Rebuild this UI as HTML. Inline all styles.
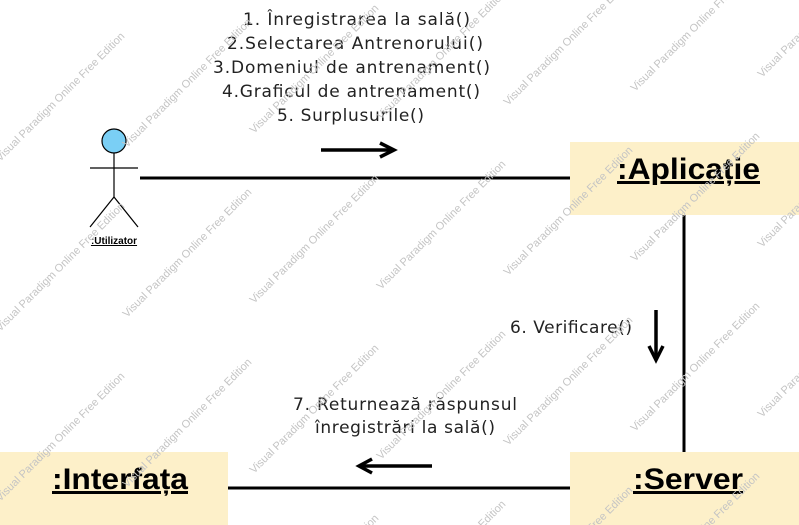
<!DOCTYPE html>
<html><head><meta charset="utf-8"><style>html,body{margin:0;padding:0;background:#fff;overflow:hidden}svg{display:block}</style></head>
<body>
<svg width="799" height="525" viewBox="0 0 799 525" xmlns="http://www.w3.org/2000/svg">
<rect width="799" height="525" fill="#fff"/>
<rect x="570" y="142" width="229" height="73" fill="#fdf0c9"/>
<rect x="570" y="452" width="229" height="73" fill="#fdf0c9"/>
<rect x="0" y="452" width="228" height="73" fill="#fdf0c9"/>
<g font-family="Liberation Sans, sans-serif" font-weight="bold" font-size="30" fill="#000" text-decoration="underline">
<text x="617" y="179" textLength="143" lengthAdjust="spacingAndGlyphs">:Aplicație</text>
<text x="633" y="489" textLength="110" lengthAdjust="spacingAndGlyphs">:Server</text>
<text x="52" y="489" textLength="136" lengthAdjust="spacingAndGlyphs">:Interfața</text>
</g>
<g stroke="#000" stroke-width="3">
<line x1="140" y1="178" x2="570" y2="178"/>
<line x1="684" y1="215" x2="684" y2="452"/>
<line x1="228" y1="488" x2="570" y2="488"/>
</g>
<circle cx="114" cy="141" r="12" fill="#7acff5" stroke="#000" stroke-width="1.2"/>
<g stroke="#000" stroke-width="1.2" fill="none">
<line x1="114" y1="153" x2="114" y2="197"/>
<line x1="90" y1="168" x2="138" y2="168"/>
<polyline points="90,227 114,197 138,227"/>
</g>
<text x="114" y="244" font-family="Liberation Sans, sans-serif" font-weight="bold" font-size="10" text-anchor="middle" text-decoration="underline">:Utilizator</text>
<g stroke="#000" stroke-width="3.5" fill="none">
<line x1="321" y1="150" x2="390" y2="150"/>
<polyline points="380,143 394,150 380,157"/>
<line x1="656" y1="310" x2="656" y2="356"/>
<polyline points="649,346 656,360 663,346"/>
<line x1="432" y1="466" x2="362" y2="466"/>
<polyline points="372,459 359,466 372,473"/>
</g>
<g font-family="DejaVu Sans, sans-serif" font-size="17" fill="#222" lengthAdjust="spacingAndGlyphs">
<text x="243" y="25" textLength="227">1. Înregistrarea la sală()</text>
<text x="227" y="49" textLength="256">2.Selectarea Antrenorului()</text>
<text x="213" y="73" textLength="277">3.Domeniul de antrenament()</text>
<text x="222" y="97" textLength="258">4.Graficul de antrenament()</text>
<text x="277" y="121" textLength="147">5. Surplusurile()</text>
<text x="510" y="333" textLength="122">6. Verificare()</text>
<text x="293" y="410" textLength="224">7. Returnează răspunsul</text>
<text x="315" y="433" textLength="180">înregistrări la sală()</text>
</g>
<g font-family="Liberation Sans, sans-serif" font-size="11" fill="#c4c4c4">
<text transform="translate(-127,176) rotate(-45)">Visual Paradigm Online Free Edition</text>
<text transform="translate(-127,346) rotate(-45)">Visual Paradigm Online Free Edition</text>
<text transform="translate(-127,516) rotate(-45)">Visual Paradigm Online Free Edition</text>
<text transform="translate(-127,686) rotate(-45)">Visual Paradigm Online Free Edition</text>
<text transform="translate(0,162) rotate(-45)">Visual Paradigm Online Free Edition</text>
<text transform="translate(0,332) rotate(-45)">Visual Paradigm Online Free Edition</text>
<text transform="translate(0,502) rotate(-45)">Visual Paradigm Online Free Edition</text>
<text transform="translate(0,672) rotate(-45)">Visual Paradigm Online Free Edition</text>
<text transform="translate(127,148) rotate(-45)">Visual Paradigm Online Free Edition</text>
<text transform="translate(127,318) rotate(-45)">Visual Paradigm Online Free Edition</text>
<text transform="translate(127,488) rotate(-45)">Visual Paradigm Online Free Edition</text>
<text transform="translate(127,658) rotate(-45)">Visual Paradigm Online Free Edition</text>
<text transform="translate(254,134) rotate(-45)">Visual Paradigm Online Free Edition</text>
<text transform="translate(254,304) rotate(-45)">Visual Paradigm Online Free Edition</text>
<text transform="translate(254,474) rotate(-45)">Visual Paradigm Online Free Edition</text>
<text transform="translate(254,644) rotate(-45)">Visual Paradigm Online Free Edition</text>
<text transform="translate(381,120) rotate(-45)">Visual Paradigm Online Free Edition</text>
<text transform="translate(381,290) rotate(-45)">Visual Paradigm Online Free Edition</text>
<text transform="translate(381,460) rotate(-45)">Visual Paradigm Online Free Edition</text>
<text transform="translate(381,630) rotate(-45)">Visual Paradigm Online Free Edition</text>
<text transform="translate(508,106) rotate(-45)">Visual Paradigm Online Free Edition</text>
<text transform="translate(508,276) rotate(-45)">Visual Paradigm Online Free Edition</text>
<text transform="translate(508,446) rotate(-45)">Visual Paradigm Online Free Edition</text>
<text transform="translate(508,616) rotate(-45)">Visual Paradigm Online Free Edition</text>
<text transform="translate(635,92) rotate(-45)">Visual Paradigm Online Free Edition</text>
<text transform="translate(635,262) rotate(-45)">Visual Paradigm Online Free Edition</text>
<text transform="translate(635,432) rotate(-45)">Visual Paradigm Online Free Edition</text>
<text transform="translate(635,602) rotate(-45)">Visual Paradigm Online Free Edition</text>
<text transform="translate(762,78) rotate(-45)">Visual Paradigm Online Free Edition</text>
<text transform="translate(762,248) rotate(-45)">Visual Paradigm Online Free Edition</text>
<text transform="translate(762,418) rotate(-45)">Visual Paradigm Online Free Edition</text>
<text transform="translate(762,588) rotate(-45)">Visual Paradigm Online Free Edition</text>
</g>
</svg>
</body></html>
